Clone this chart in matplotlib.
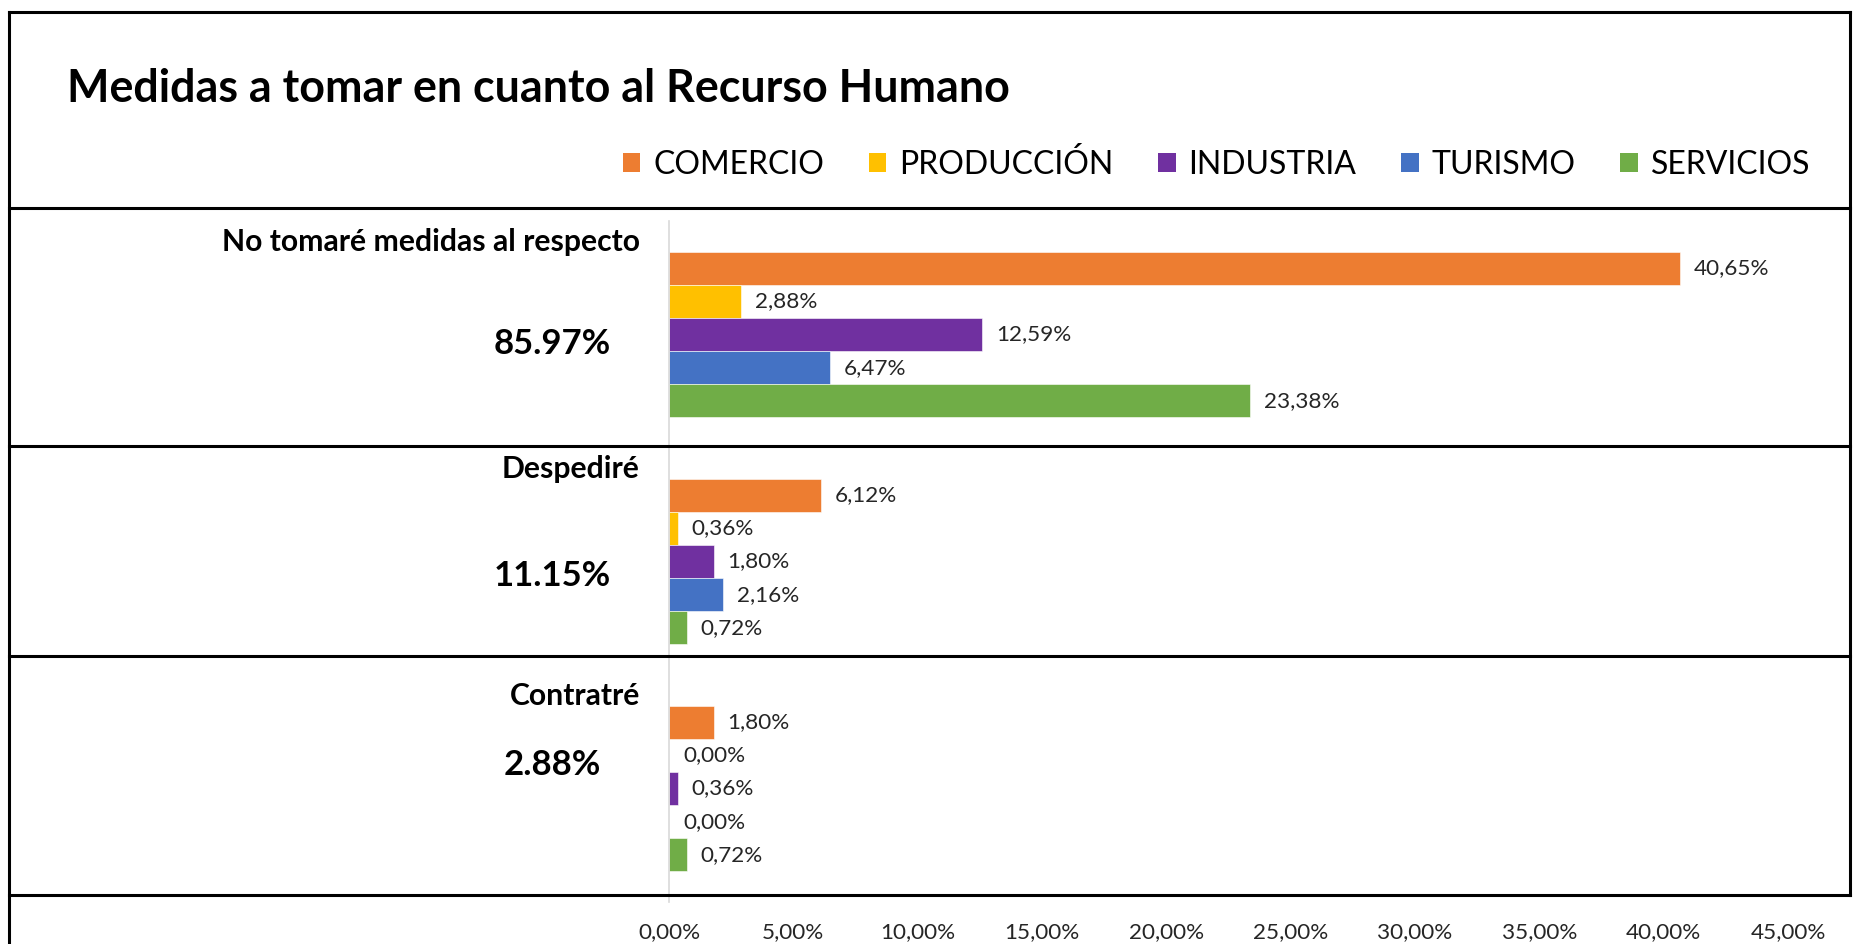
import numpy as np
import matplotlib
matplotlib.use('Agg')
import matplotlib.pyplot as plt
import matplotlib.transforms as mtransforms
from matplotlib.lines import Line2D
from matplotlib.patches import Patch

plt.rcParams['font.family'] = ['Lato', 'DejaVu Sans']

# data
categories = ['No tomaré medidas al respecto', 'Despediré', 'Contratré']
totals = [85.97, 11.15, 2.88]
sectors = ['COMERCIO', 'PRODUCCIÓN', 'INDUSTRIA', 'TURISMO', 'SERVICIOS']
comercio = [40.65, 6.12, 1.80]
produccion = [2.88, 0.36, 0.00]
industria = [12.59, 1.80, 0.36]
turismo = [6.47, 2.16, 0.00]
servicios = [23.38, 0.72, 0.72]
xticks = [0, 5, 10, 15, 20, 25, 30, 35, 40, 45]

series = [comercio, produccion, industria, turismo, servicios]
colors = ['#ED7D31', '#FFC000', '#7030A0', '#4472C4', '#70AD47']

W, H = 1854, 944


def fx(px):
    return px / W


def fy(py):
    return 1 - py / H


def pct(v):
    return f'{v:.2f}'.replace('.', ',') + '%'


fig = plt.figure(figsize=(W / 100, H / 100), dpi=100)
ax = fig.add_axes([fx(669), fy(902), fx(1788) - fx(669), fy(221) - fy(902)])

y = np.arange(len(categories))
bar_h = 0.73 / len(series)
for j, (vals, col) in enumerate(zip(series, colors)):
    pos = y + (j - (len(series) - 1) / 2) * bar_h
    ax.barh(pos, vals, height=bar_h, color=col, edgecolor='white', linewidth=0.4)
    for p, v in zip(pos, vals):
        ax.annotate(pct(v), xy=(v, p), xytext=(10, 0), textcoords='offset points',
                    ha='left', va='center', fontsize=16.2, color='#262626')

ax.set_xlim(0, 45)
ax.set_ylim(len(categories) - 0.5, -0.5)
ax.set_xticks(xticks)
ax.set_xticklabels([pct(t) for t in xticks], fontsize=16.2, color='#262626')
ax.tick_params(axis='x', bottom=False, pad=11)
ax.tick_params(axis='y', left=False, labelleft=False)
for s in ['top', 'right', 'bottom']:
    ax.spines[s].set_visible(False)
ax.spines['left'].set_color('#D9D9D9')
ax.spines['left'].set_linewidth(1.2)

# category names and totals to the left of the bars
trans = mtransforms.blended_transform_factory(ax.transAxes, ax.transData)
total_y_px = [344, 576, 765]
for i, (cat, tot) in enumerate(zip(categories, totals)):
    ax.text(-0.026, i - 0.407, cat, transform=trans, ha='right', va='center',
            fontsize=21.7, fontweight='bold', color='black')
    fig.text(fx(552), fy(total_y_px[i]), f'{tot:.2f}%', ha='center', va='center',
             fontsize=25, fontweight='bold', color='black')

# title and legend
fig.text(fx(67), fy(89), 'Medidas a tomar en cuanto al Recurso Humano',
         ha='left', va='center', fontsize=32.3, fontweight='bold', color='black')
handles = [Patch(facecolor=c, edgecolor='none', label=s) for s, c in zip(sectors, colors)]
fig.legend(handles=handles, loc='center right', bbox_to_anchor=(fx(1810), fy(164)),
           ncol=5, frameon=False, fontsize=23, handlelength=0.55, handleheight=0.55,
           handletextpad=0.4, columnspacing=1.4, borderaxespad=0, borderpad=0)

# frame lines around the chart blocks
lw = 2.2
frame = [
    ((9, 1850), (12, 12)),
    ((9, 9), (12, 944)),
    ((1850, 1850), (12, 895)),
    ((9, 1850), (208, 208)),
    ((9, 1850), (446, 446)),
    ((9, 1850), (656, 656)),
    ((9, 1850), (895, 895)),
]
for xs, ys in frame:
    fig.add_artist(Line2D([fx(v) for v in xs], [fy(v) for v in ys],
                          transform=fig.transFigure, color='black', linewidth=lw))

fig.savefig('out.png', dpi=100)
